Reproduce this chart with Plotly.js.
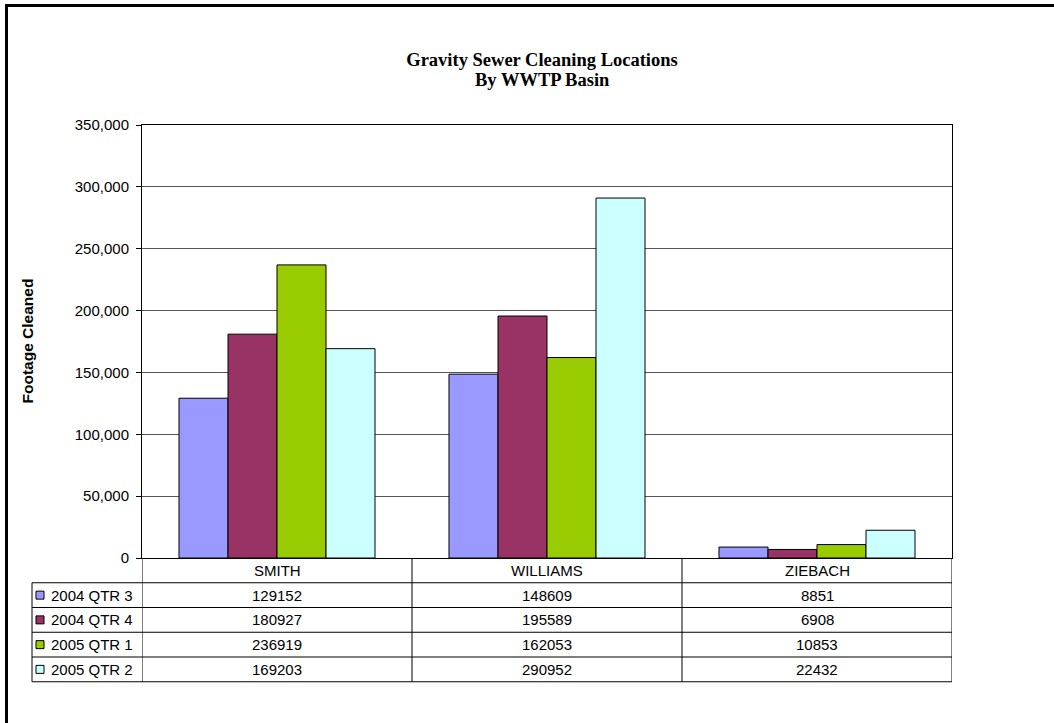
<!DOCTYPE html>
<html>
<head>
<meta charset="utf-8">
<script src="https://cdn.plot.ly/plotly-3.0.1.min.js"></script>
<style>
  html, body { margin: 0; padding: 0; background: #ffffff; }
  #chart { width: 1054px; height: 723px; }
  #frame {
    position: absolute; left: 5px; top: 4px; width: 1100px; height: 800px;
    border-left: 3px solid #000; border-top: 3px solid #000;
    pointer-events: none;
  }
</style>
</head>
<body>
<div id="chart"></div>
<div id="frame"></div>
<script>
// Basins shown on the category axis and in the table header
const basins = ['SMITH', 'WILLIAMS', 'ZIEBACH'];

// Quarterly footage cleaned per basin
const seriesNames = ['2004 QTR 3', '2004 QTR 4', '2005 QTR 1', '2005 QTR 2'];
const qtr2004_3 = [129152, 148609, 8851];
const qtr2004_4 = [180927, 195589, 6908];
const qtr2005_1 = [236919, 162053, 10853];
const qtr2005_2 = [169203, 290952, 22432];
const seriesValues = [qtr2004_3, qtr2004_4, qtr2005_1, qtr2005_2];
const seriesColors = ['#9999FF', '#993366', '#99CC00', '#CCFFFF'];

const yTicks = [0, 50000, 100000, 150000, 200000, 250000, 300000, 350000];

const chartTitle = 'Gravity Sewer Cleaning Locations';
const chartSubtitle = 'By WWTP Basin';

// Page geometry (pixels)
const W = 1054, H = 723;
const M = { l: 142, r: 102, t: 125, b: 165 };
const plotW = W - M.l - M.r;
const plotH = H - M.t - M.b;
const rowPx = 24.75;          // data-table row height
const tableLeftPx = 32;       // left edge of the series-name column
const keyLeftPx = 36;         // legend key square
const keySizePx = 8;
const labelLeftPx = 49;       // series-name text

const pxToPaperX = px => (px - M.l) / plotW;
const pxToPaperY = py => (H - M.b - py) / plotH;
const rowH = rowPx / plotH;   // in paper units
const tableLeft = pxToPaperX(tableLeftPx);

const textFont = { family: 'Liberation Sans, Arial, sans-serif', size: 15, color: '#000' };
const titleFont = { family: 'Liberation Serif, Times New Roman, serif', size: 18.5, color: '#000', weight: 'bold' };
const lineStyle = { color: '#000', width: 1 };

const traces = seriesNames.map((name, i) => ({
  type: 'bar',
  name: name,
  x: basins,
  y: seriesValues[i],
  marker: { color: seriesColors[i], line: { color: '#000', width: 1 } },
  hoverinfo: 'x+y+name'
}));

const shapes = [];
const annotations = [];
const nRows = seriesNames.length;
const tableBottom = -(nRows + 1) * rowH;

// Vertical column separators (category boundaries) through header and rows
for (let c = 0; c <= basins.length; c++) {
  shapes.push({ type: 'line', xref: 'x', yref: 'paper',
    x0: c - 0.5, x1: c - 0.5, y0: 0, y1: tableBottom, line: lineStyle });
}
// Left edge of series-name column
shapes.push({ type: 'line', xref: 'paper', yref: 'paper',
  x0: tableLeft, x1: tableLeft, y0: -rowH, y1: tableBottom, line: lineStyle });
// Horizontal row lines
for (let r = 1; r <= nRows + 1; r++) {
  shapes.push({ type: 'line', xref: 'paper', yref: 'paper',
    x0: tableLeft, x1: 1, y0: -r * rowH, y1: -r * rowH, line: lineStyle });
}

// Header row: basin names
basins.forEach((b) => {
  annotations.push({ xref: 'x', yref: 'paper', x: b, y: -0.5 * rowH,
    text: b, showarrow: false, xanchor: 'center', yanchor: 'middle', font: textFont });
});

// Series rows: key, name and values
seriesNames.forEach((name, i) => {
  const yMid = -(i + 1.5) * rowH;
  shapes.push({ type: 'rect', xref: 'paper', yref: 'paper',
    xsizemode: 'pixel', ysizemode: 'pixel',
    xanchor: pxToPaperX(keyLeftPx), yanchor: yMid,
    x0: 0, x1: keySizePx, y0: -keySizePx / 2, y1: keySizePx / 2,
    fillcolor: seriesColors[i], line: { color: '#000', width: 1 } });
  annotations.push({ xref: 'paper', yref: 'paper', x: pxToPaperX(labelLeftPx), y: yMid,
    text: name, showarrow: false, xanchor: 'left', yanchor: 'middle', font: textFont });
  seriesValues[i].forEach((v, c) => {
    annotations.push({ xref: 'x', yref: 'paper', x: basins[c], y: yMid,
      text: String(v), showarrow: false, xanchor: 'center', yanchor: 'middle', font: textFont });
  });
});

// Second title line, set close under the main title
annotations.push({ xref: 'paper', yref: 'paper', x: pxToPaperX(542), y: pxToPaperY(80),
  text: chartSubtitle, showarrow: false, xanchor: 'center', yanchor: 'middle', font: titleFont });

// Vertical axis title
annotations.push({ xref: 'paper', yref: 'paper', x: pxToPaperX(27), y: 0.5,
  text: 'Footage Cleaned', textangle: -90, showarrow: false,
  xanchor: 'center', yanchor: 'middle',
  font: { family: 'Liberation Sans, Arial, sans-serif', size: 15.5, color: '#000', weight: 'bold' } });

const layout = {
  width: W, height: H,
  margin: M,
  paper_bgcolor: 'rgba(0,0,0,0)',
  plot_bgcolor: '#ffffff',
  showlegend: false,
  barmode: 'group',
  bargap: 0.274,
  bargroupgap: 0,
  title: {
    text: chartTitle,
    font: titleFont,
    xref: 'paper', x: pxToPaperX(542), xanchor: 'center',
    yref: 'container', y: 1 - 60 / H, yanchor: 'middle'
  },
  xaxis: {
    type: 'category',
    range: [-0.5, basins.length - 0.5],
    showticklabels: false,
    ticks: '',
    showline: true, mirror: true, linecolor: '#000', linewidth: 1,
    showgrid: false, zeroline: false, fixedrange: true
  },
  yaxis: {
    range: [0, 350000],
    tickvals: yTicks,
    tickformat: ',d',
    ticks: 'outside', ticklen: 5, tickcolor: '#000', tickwidth: 1,
    ticklabelstandoff: 4,
    tickfont: textFont,
    showline: true, mirror: true, linecolor: '#000', linewidth: 1,
    showgrid: true, gridcolor: '#555', gridwidth: 1,
    zeroline: false, fixedrange: true
  },
  shapes: shapes,
  annotations: annotations
};

Plotly.newPlot('chart', traces, layout, { displayModeBar: false, staticPlot: true });
</script>
</body>
</html>
